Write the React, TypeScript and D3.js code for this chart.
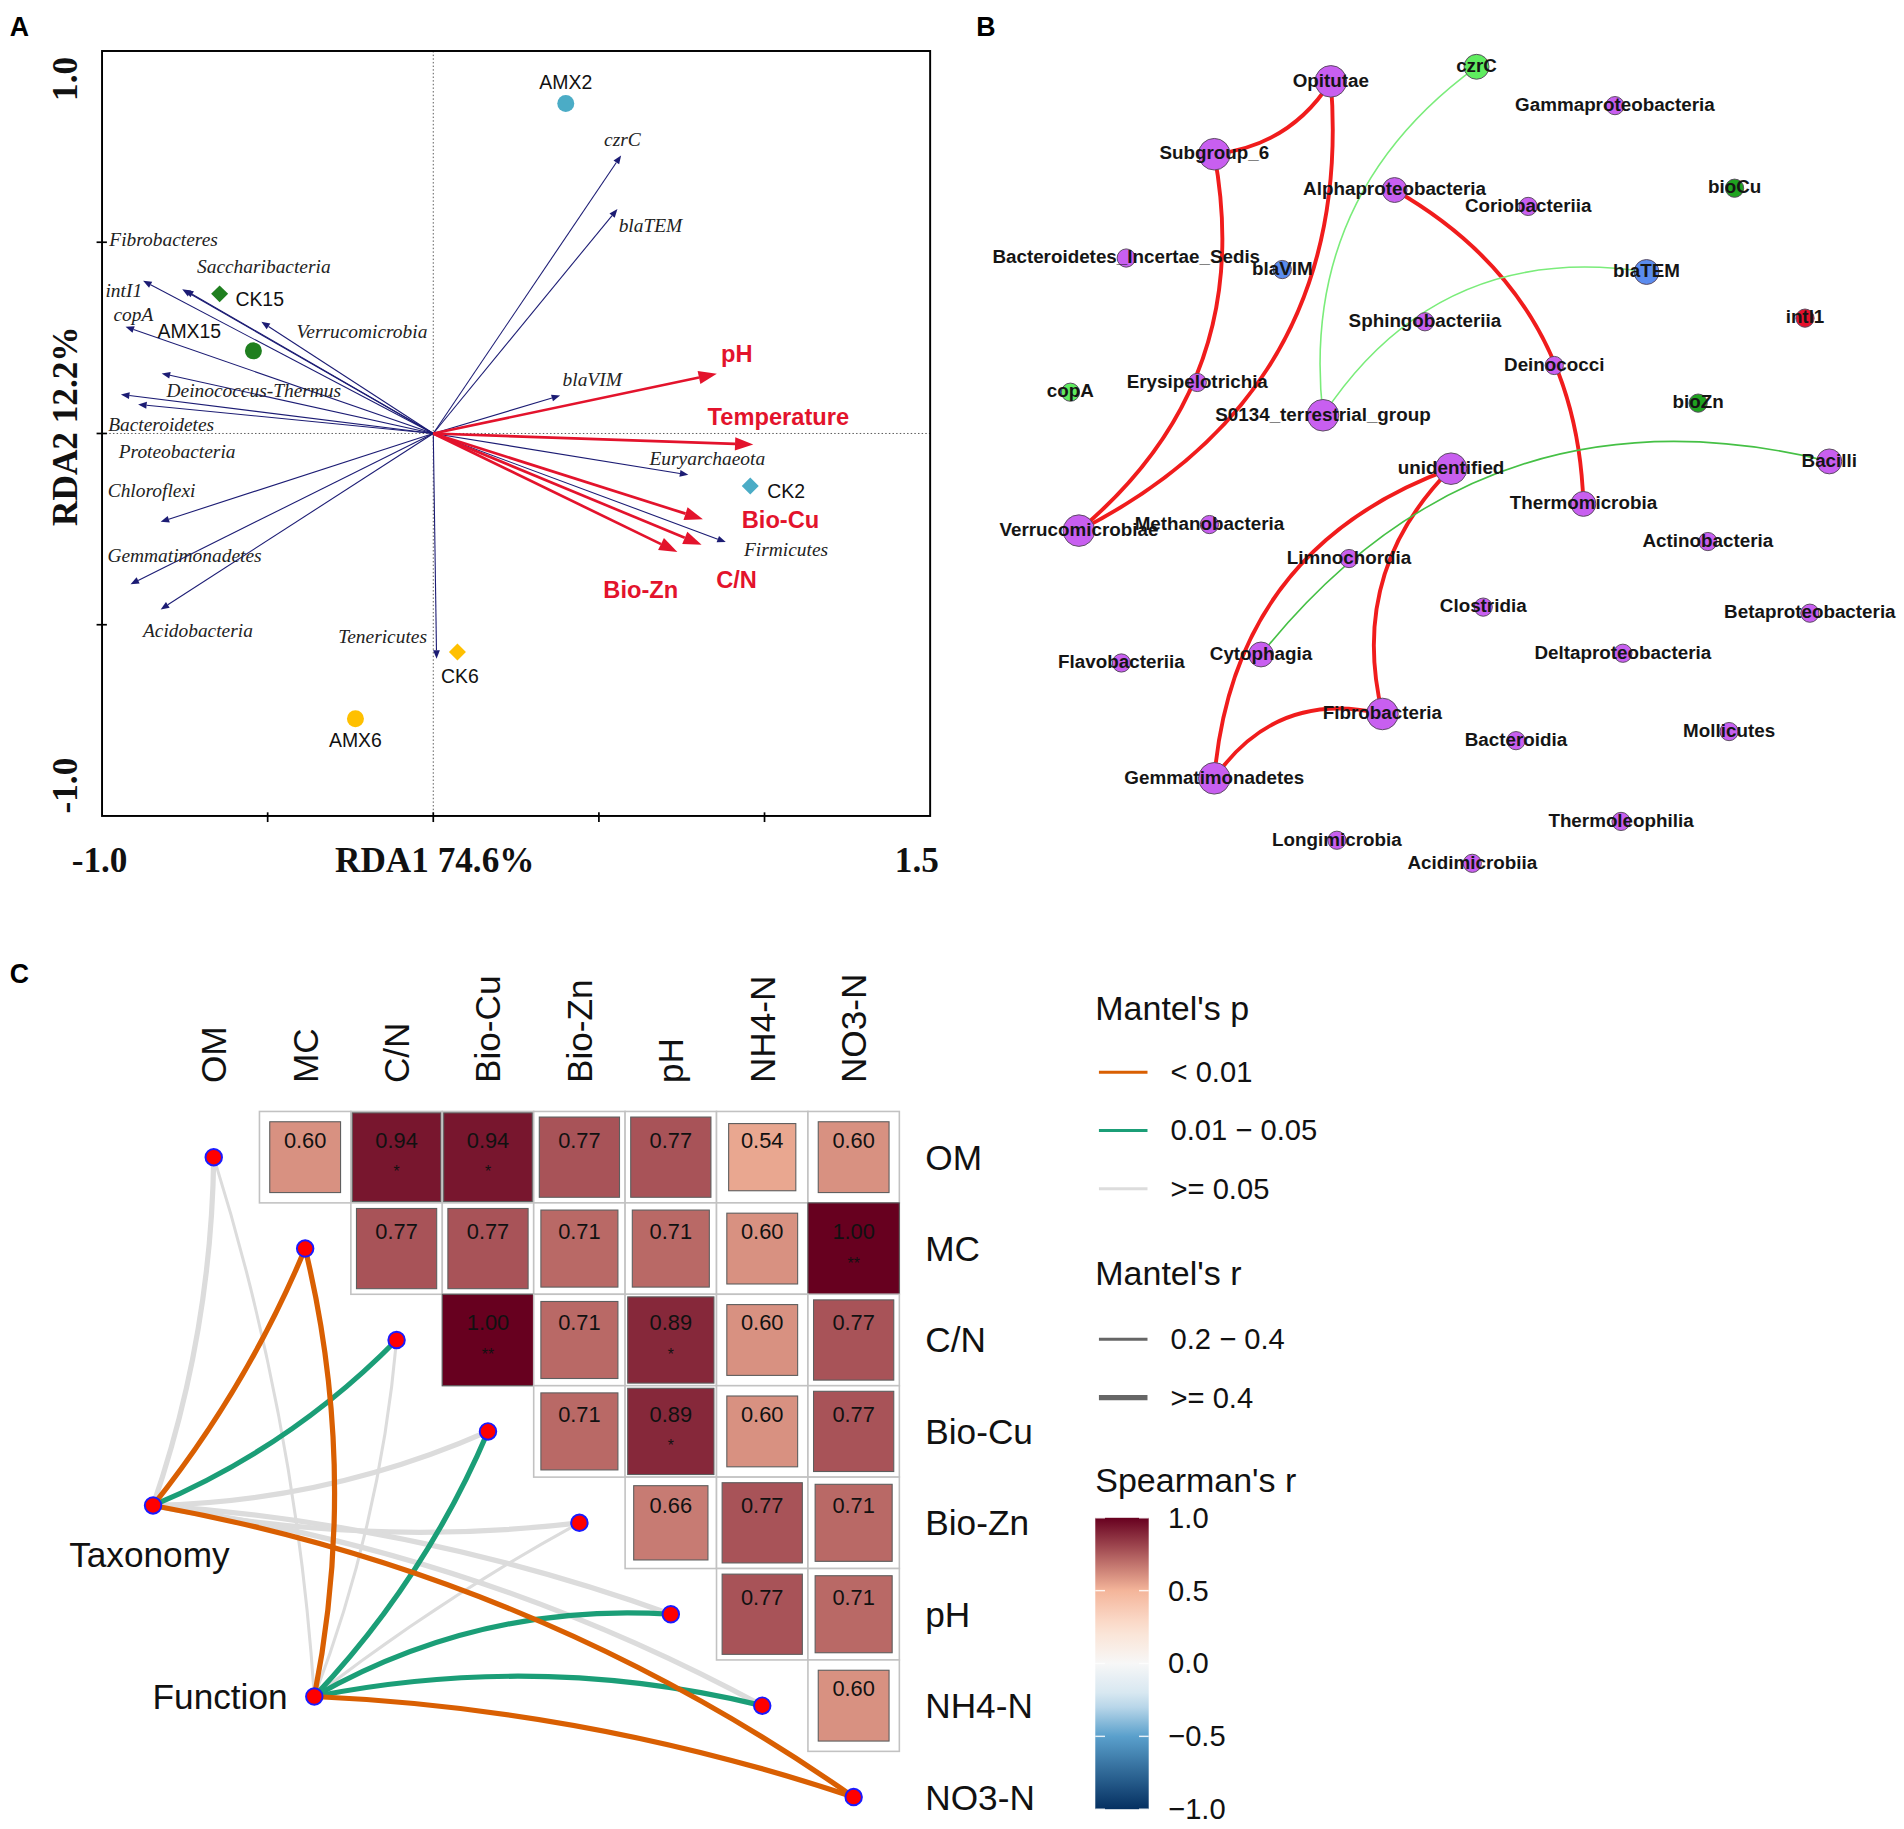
import React from "react";
import * as d3 from "d3";

const VB_W = 1568;
const VB_H = 1506.3;
const SANS = "'Liberation Sans', Arial, Helvetica, sans-serif";
const SERIF = "'Liberation Serif', 'Times New Roman', serif";

// ---------------- Panel A : RDA biplot ----------------
const sampleNames = ["AMX2", "CK15", "AMX15", "CK2", "CK6", "AMX6"];
const sampleRDA1 = [0.4, -0.645, -0.543, 0.957, 0.073, -0.235];
const sampleRDA2 = [0.863, 0.365, 0.216, -0.137, -0.571, -0.746];
const sampleShapes = ["circle", "diamond", "circle", "diamond", "diamond", "circle"];
const sampleGroups = ["day2", "day15", "day15", "day2", "day6", "day6"];

const speciesNames = [
  "czrC", "blaTEM", "blaVIM", "Euryarchaeota", "Firmicutes", "Tenericutes",
  "Acidobacteria", "Gemmatimonadetes", "Chloroflexi", "Proteobacteria",
  "Bacteroidetes", "Deinococcus-Thermus", "copA", "Verrucomicrobia",
  "Saccharibacteria", "Fibrobacteres", "intI1",
];
const speciesRDA1 = [0.567, 0.556, 0.383, 0.77, 0.883, 0.01, -0.823, -0.914, -0.823, -0.891, -0.943, -0.82, -0.929, -0.519, -0.75, -0.758, -0.876];
const speciesRDA2 = [0.727, 0.587, 0.099, -0.108, -0.284, -0.589, -0.46, -0.394, -0.231, 0.076, 0.102, 0.157, 0.279, 0.292, 0.375, 0.377, 0.399];

const envNamesA = ["pH", "Temperature", "Bio-Cu", "C/N", "Bio-Zn"];
const envRDA1 = [0.856, 0.966, 0.814, 0.81, 0.737];
const envRDA2 = [0.156, -0.029, -0.224, -0.291, -0.31];

const axisXTicks = [-0.5, 0, 0.5, 1.0];
const axisYTicks = [-0.5, 0, 0.5];

// ---------------- Panel B : network ----------------
const nodeNames = [
  "Opitutae", "czrC", "Gammaproteobacteria", "Subgroup_6", "Alphaproteobacteria",
  "Coriobacteriia", "bioCu", "Bacteroidetes_Incertae_Sedis", "blaVIM", "blaTEM",
  "intI1", "Sphingobacteriia", "copA", "Erysipelotrichia", "Deinococci", "bioZn",
  "S0134_terrestrial_group", "unidentified", "Bacilli", "Thermomicrobia",
  "Verrucomicrobiae", "Methanobacteria", "Actinobacteria", "Limnochordia",
  "Clostridia", "Betaproteobacteria", "Flavobacteriia", "Cytophagia",
  "Deltaproteobacteria", "Fibrobacteria", "Bacteroidia", "Mollicutes",
  "Gemmatimonadetes", "Thermoleophilia", "Longimicrobia", "Acidimicrobiia",
];
const nodeLayoutX = [306, 426, 540, 210, 358.5, 468.5, 638.5, 137.5, 266, 566, 696.5, 383.5, 91.5, 196, 490, 608.5, 299.5, 405, 716.5, 514, 98.5, 206, 616.5, 321, 431.5, 700.5, 133.5, 248.5, 546.5, 348.5, 458.5, 634, 210, 545, 311, 422.5];
const nodeLayoutY = [27, 15, 47, 87, 116.5, 130, 115, 172.5, 182, 184, 222, 225, 283, 275, 261, 292, 302, 346, 340, 375, 397, 392, 406, 420, 460, 465, 506, 499, 498, 548, 570, 562.5, 601, 636.5, 652, 671];
const nodeKinds = [
  "taxon", "mrg", "taxon", "taxon", "taxon", "taxon", "metal", "taxon", "arg", "arg",
  "mge", "taxon", "mrg", "taxon", "taxon", "metal", "taxon", "taxon", "taxon", "taxon",
  "taxon", "taxon", "taxon", "taxon", "taxon", "taxon", "taxon", "taxon", "taxon",
  "taxon", "taxon", "taxon", "taxon", "taxon", "taxon", "taxon",
];

const edgeSources = ["Subgroup_6", "Verrucomicrobiae", "Verrucomicrobiae", "Alphaproteobacteria", "unidentified", "unidentified", "Gemmatimonadetes", "czrC", "blaTEM", "Bacilli"];
const edgeTargets = ["Opitutae", "Opitutae", "Subgroup_6", "Thermomicrobia", "Gemmatimonadetes", "Fibrobacteria", "Fibrobacteria", "S0134_terrestrial_group", "S0134_terrestrial_group", "Cytophagia"];
const edgeBends = [0.12, 0.167, 0.146, -0.14, 0.16, 0.14, -0.17, 0.145, 0.16, 0.16];
const edgeKinds = ["taxa", "taxa", "taxa", "taxa", "taxa", "taxa", "taxa", "gene", "gene", "gene2"];

// ---------------- Panel C : Mantel / correlation ----------------
const envVars = ["OM", "MC", "C/N", "Bio-Cu", "Bio-Zn", "pH", "NH4-N", "NO3-N"];
// upper triangle (row i, columns i+1..7)
const corrRows = [
  [0.6, 0.94, 0.94, 0.77, 0.77, 0.54, 0.6],
  [0.77, 0.77, 0.71, 0.71, 0.6, 1.0],
  [1.0, 0.71, 0.89, 0.6, 0.77],
  [0.71, 0.89, 0.6, 0.77],
  [0.66, 0.77, 0.71],
  [0.77, 0.71],
  [0.6],
];
const corrStars = [
  ["", "*", "*", "", "", "", ""],
  ["", "", "", "", "", "**"],
  ["**", "", "*", "", ""],
  ["", "*", "", ""],
  ["", "", ""],
  ["", ""],
  [""],
];

const specNames = ["Taxonomy", "Function"];
const specGridX = [-0.664, 1.1];
const specGridY = [3.81, 5.9];
const taxonomyP = [">=0.05", "<0.01", "0.01-0.05", ">=0.05", ">=0.05", ">=0.05", ">=0.05", "<0.01"];
const taxonomyR = [">=0.4", ">=0.4", ">=0.4", ">=0.4", ">=0.4", ">=0.4", ">=0.4", ">=0.4"];
const taxonomyBend = [0.04, 0.035, 0.05, 0.05, 0.04, -0.035, -0.045, -0.055];
const functionP = [">=0.05", "<0.01", ">=0.05", "0.01-0.05", ">=0.05", "0.01-0.05", "0.01-0.05", "<0.01"];
const functionR = ["0.2-0.4", ">=0.4", "0.2-0.4", ">=0.4", "0.2-0.4", ">=0.4", ">=0.4", ">=0.4"];
const functionBend = [0.03, 0.055, 0.035, 0.045, -0.02, -0.075, -0.055, -0.035];

const pLevels = ["<0.01", "0.01-0.05", ">=0.05"];
const pLabels = ["< 0.01", "0.01 \u2212 0.05", ">= 0.05"];
const rLevels = ["0.2-0.4", ">=0.4"];
const rLabels = ["0.2 \u2212 0.4", ">= 0.4"];
const colorbarBreaks = [1.0, 0.5, 0.0, -0.5, -1.0];
const colorbarLabels = ["1.0", "0.5", "0.0", "\u22120.5", "\u22121.0"];

// ---------------- helpers ----------------
function curvePath(x1: number, y1: number, x2: number, y2: number, bend: number) {
  const dx = x2 - x1;
  const dy = y2 - y1;
  const len = Math.hypot(dx, dy);
  const px = -dy / len;
  const py = dx / len;
  const cx = (x1 + x2) / 2 + px * bend * len * 2;
  const cy = (y1 + y2) / 2 + py * bend * len * 2;
  const p = d3.path();
  p.moveTo(x1, y1);
  p.quadraticCurveTo(cx, cy, x2, y2);
  return p.toString();
}

function Arrow(props: { x1: number; y1: number; x2: number; y2: number; color: string; width: number; headLen: number; headW: number }) {
  const { x1, y1, x2, y2, color, width, headLen, headW } = props;
  const ang = Math.atan2(y2 - y1, x2 - x1);
  const bx = x2 - headLen * Math.cos(ang);
  const by = y2 - headLen * Math.sin(ang);
  const lx = bx + headW * Math.sin(ang);
  const ly = by - headW * Math.cos(ang);
  const rx = bx - headW * Math.sin(ang);
  const ry = by + headW * Math.cos(ang);
  return (
    <g>
      <line x1={x1} y1={y1} x2={bx} y2={by} stroke={color} strokeWidth={width} />
      <path d={`M${x2},${y2}L${lx},${ly}L${rx},${ry}Z`} fill={color} />
    </g>
  );
}

// ---------------- Panel A ----------------
const speciesLabelNudge: [number, number][] = [
  [-14, -13.5], [1, 13.5], [2, -13], [-32, -13.5], [15, 6], [-81, -18], [-14.6, 17],
  [-19, -23.5], [-43.6, -26], [-16, 39], [-10.5, 25], [4, 14], [-10, -10.5], [29, 8],
  [10, -19], [-60, -41], [-31, 8],
];
const envLabelNudge: [number, number][] = [[3.5, -16], [-37.6, -23], [32, 0.5], [12, 29], [-61, 31.5]];
const sampleLabelNudge: [number, number, string][] = [
  [0, -18, "middle"], [13, 4, "start"], [-79, -16.6, "start"], [14, 4, "start"], [2, 20, "middle"], [0, 17.5, "middle"],
];
const groupColor: Record<string, string> = { day2: "#4bacc6", day15: "#1f7f1f", day6: "#ffc000" };

function PanelA() {
  const x = d3.scaleLinear().domain([-1, 1.5]).range([84, 766]);
  const y = d3.scaleLinear().domain([-1, 1]).range([672, 42]);
  const x0 = x(0);
  const y0 = y(0);
  return (
    <g>
      <text x={8} y={22} fontFamily={SANS} fontWeight="bold" fontSize={22} dominantBaseline="central">A</text>
      <line x1={x0} x2={x0} y1={y(1)} y2={y(-1)} stroke="#555" strokeWidth={0.8} strokeDasharray="1.2,1.8" />
      <line x1={x(-1)} x2={x(1.5)} y1={y0} y2={y0} stroke="#555" strokeWidth={0.8} strokeDasharray="1.2,1.8" />
      <rect x={x(-1)} y={y(1)} width={x(1.5) - x(-1)} height={y(-1) - y(1)} fill="none" stroke="#000" strokeWidth={1.6} />
      {axisYTicks.map((t) => (
        <line key={"yt" + t} x1={x(-1) - 4.5} x2={x(-1) + 4} y1={y(t)} y2={y(t)} stroke="#000" strokeWidth={1.4} />
      ))}
      {axisXTicks.map((t) => (
        <line key={"xt" + t} x1={x(t)} x2={x(t)} y1={y(-1) - 3} y2={y(-1) + 5} stroke="#000" strokeWidth={1.4} />
      ))}
      <g fontFamily={SERIF} fontWeight="bold" fontSize={29} fill="#111">
        <text x={82} y={709} textAnchor="middle" dominantBaseline="central">-1.0</text>
        <text x={755} y={709} textAnchor="middle" dominantBaseline="central">1.5</text>
        <text x={358} y={709} textAnchor="middle" dominantBaseline="central">RDA1 74.6%</text>
        <text transform="translate(54,65) rotate(-90)" textAnchor="middle" dominantBaseline="central">1.0</text>
        <text transform="translate(54,647) rotate(-90)" textAnchor="middle" dominantBaseline="central">-1.0</text>
        <text transform="translate(54,351) rotate(-90)" textAnchor="middle" dominantBaseline="central">RDA2 12.2%</text>
      </g>
      {speciesNames.map((n, i) => (
        <Arrow key={"sp" + n} x1={x0} y1={y0} x2={x(speciesRDA1[i])} y2={y(speciesRDA2[i])} color="#1c1c74" width={0.9} headLen={7} headW={2.8} />
      ))}
      {speciesNames.map((n, i) => (
        <text key={"spl" + n} x={x(speciesRDA1[i]) + speciesLabelNudge[i][0]} y={y(speciesRDA2[i]) + speciesLabelNudge[i][1]}
          fontFamily={SERIF} fontStyle="italic" fontSize={16} fill="#222" dominantBaseline="central">{n}</text>
      ))}
      {envNamesA.map((n, i) => (
        <Arrow key={"env" + n} x1={x0} y1={y0} x2={x(envRDA1[i])} y2={y(envRDA2[i])} color="#e3132c" width={2.2} headLen={15} headW={5.5} />
      ))}
      {envNamesA.map((n, i) => (
        <text key={"envl" + n} x={x(envRDA1[i]) + envLabelNudge[i][0]} y={y(envRDA2[i]) + envLabelNudge[i][1]}
          fontFamily={SANS} fontWeight="bold" fontSize={19.5} fill="#e3132c" dominantBaseline="central">{n}</text>
      ))}
      {sampleNames.map((n, i) => {
        const cx = x(sampleRDA1[i]);
        const cy = y(sampleRDA2[i]);
        const col = groupColor[sampleGroups[i]];
        return sampleShapes[i] === "circle" ? (
          <circle key={"s" + n} cx={cx} cy={cy} r={7} fill={col} />
        ) : (
          <path key={"s" + n} d={`M${cx},${cy - 7}L${cx + 7},${cy}L${cx},${cy + 7}L${cx - 7},${cy}Z`} fill={col} />
        );
      })}
      {sampleNames.map((n, i) => (
        <text key={"sl" + n} x={x(sampleRDA1[i]) + sampleLabelNudge[i][0]} y={y(sampleRDA2[i]) + sampleLabelNudge[i][1]}
          textAnchor={sampleLabelNudge[i][2] as any} fontFamily={SANS} fontSize={16} fill="#111" dominantBaseline="central">{n}</text>
      ))}
    </g>
  );
}

// ---------------- Panel B ----------------
const kindFill: Record<string, string> = {
  taxon: "#c85ff0", mrg: "#5fec5f", metal: "#1fa31f", arg: "#5b8cef", mge: "#e5102b",
};
const edgeStyle: Record<string, { stroke: string; width: number }> = {
  taxa: { stroke: "#f01c1c", width: 3.2 },
  gene: { stroke: "#7aec7a", width: 1.3 },
  gene2: { stroke: "#45c045", width: 1.3 },
};

function PanelB() {
  const sx = d3.scaleLinear().domain([0, 780]).range([790, 1570]);
  const sy = d3.scaleLinear().domain([0, 690]).range([40, 730]);
  const idx = new Map(nodeNames.map((n, i) => [n, i] as [string, number]));
  const degree = nodeNames.map((n) => edgeSources.filter((s) => s === n).length + edgeTargets.filter((t) => t === n).length);
  const rScale = d3.scaleLinear().domain([0, 2]).range([7.5, 13]);
  return (
    <g>
      <text x={804} y={22} fontFamily={SANS} fontWeight="bold" fontSize={22} dominantBaseline="central">B</text>
      {edgeSources.map((s, i) => {
        const a = idx.get(s)!;
        const b = idx.get(edgeTargets[i])!;
        const st = edgeStyle[edgeKinds[i]];
        return (
          <path key={"e" + i} d={curvePath(sx(nodeLayoutX[a]), sy(nodeLayoutY[a]), sx(nodeLayoutX[b]), sy(nodeLayoutY[b]), edgeBends[i])}
            fill="none" stroke={st.stroke} strokeWidth={st.width} />
        );
      })}
      {nodeNames.map((n, i) => (
        <circle key={"n" + n} cx={sx(nodeLayoutX[i])} cy={sy(nodeLayoutY[i])} r={rScale(degree[i])}
          fill={kindFill[nodeKinds[i]]} stroke="#5a4a60" strokeWidth={0.8} />
      ))}
      {nodeNames.map((n, i) => (
        <text key={"nl" + n} x={sx(nodeLayoutX[i])} y={sy(nodeLayoutY[i]) - 1} textAnchor="middle" dominantBaseline="central"
          fontFamily={SANS} fontWeight="bold" fontSize={15.5} fill="#151515">{n}</text>
      ))}
    </g>
  );
}

// ---------------- Panel C ----------------
const pColor: Record<string, string> = { "<0.01": "#D95F02", "0.01-0.05": "#1B9E77", ">=0.05": "#dcdcdc" };
const rWidth: Record<string, number> = { "0.2-0.4": 2.5, ">=0.4": 4.3 };

function PanelC() {
  const col = d3.scaleLinear().domain([0, 7]).range([176, 703]);
  const row = d3.scaleLinear().domain([0, 7]).range([953, 1480]);
  const cell = col(1) - col(0);
  const fill = d3
    .scaleLinear<string>()
    .domain([-1, -0.5, -0.25, 0, 0.25, 0.5, 1])
    .range(["#053061", "#5aa0cc", "#d0e4f0", "#f7f7f7", "#fbe0d0", "#f4b59a", "#67001f"])
    .interpolate(d3.interpolateRgb);

  const links: { d: string; p: string; r: string }[] = [];
  specNames.forEach((s, si) => {
    const P = si === 0 ? taxonomyP : functionP;
    const R = si === 0 ? taxonomyR : functionR;
    const B = si === 0 ? taxonomyBend : functionBend;
    envVars.forEach((e, j) => {
      links.push({
        d: curvePath(col(specGridX[si]), row(specGridY[si]), col(j), row(j), B[j]),
        p: P[j],
        r: R[j],
      });
    });
  });
  const order = [">=0.05", "0.01-0.05", "<0.01"];
  links.sort((a, b) => order.indexOf(a.p) - order.indexOf(b.p));

  const cbTop = 1250;
  const cbBot = 1490;
  const cbY = d3.scaleLinear().domain([-1, 1]).range([cbBot, cbTop]);
  const gradStops = d3.range(0, 1.0001, 0.05);

  return (
    <g>
      <text x={8} y={802} fontFamily={SANS} fontWeight="bold" fontSize={22} dominantBaseline="central">C</text>
      {envVars.map((v, j) => (
        <text key={"cl" + v} transform={`translate(${col(j)},892) rotate(-90)`} textAnchor="start" dominantBaseline="central"
          fontFamily={SANS} fontSize={29} fill="#111">{v}</text>
      ))}
      {envVars.map((v, i) => (
        <text key={"rl" + v} x={762} y={row(i)} dominantBaseline="central" fontFamily={SANS} fontSize={29} fill="#111">{v}</text>
      ))}
      {corrRows.map((vals, i) =>
        vals.map((v, k) => {
          const j = i + 1 + k;
          const cx = col(j);
          const cy = row(i);
          const side = cell * Math.sqrt(Math.abs(v));
          return (
            <g key={`c${i}-${j}`}>
              <rect x={cx - cell / 2} y={cy - cell / 2} width={cell} height={cell} fill="#fff" stroke="#c2c2c2" strokeWidth={1.3} />
              <rect x={cx - side / 2} y={cy - side / 2} width={side} height={side} fill={fill(v)} stroke="#5e5e5e" strokeWidth={0.9} />
              <text x={cx} y={cy - 14} textAnchor="middle" dominantBaseline="central" fontFamily={SANS} fontSize={18} fill="#111">
                {v.toFixed(2)}
              </text>
              {corrStars[i][k] && (
                <text x={cx} y={cy + 12} textAnchor="middle" dominantBaseline="central" fontFamily={SANS} fontSize={13} fill="#111">
                  {corrStars[i][k]}
                </text>
              )}
            </g>
          );
        })
      )}
      {links.map((l, i) => (
        <path key={"lk" + i} d={l.d} fill="none" stroke={pColor[l.p]} strokeWidth={rWidth[l.r]} strokeLinecap="round" />
      ))}
      {envVars.map((v, j) => (
        <circle key={"en" + v} cx={col(j)} cy={row(j)} r={6.8} fill="#ff0000" stroke="#1a1aff" strokeWidth={1.6} />
      ))}
      {specNames.map((s, si) => (
        <circle key={"sn" + s} cx={col(specGridX[si])} cy={row(specGridY[si])} r={6.8} fill="#ff0000" stroke="#1a1aff" strokeWidth={1.6} />
      ))}
      <text x={col(specGridX[0]) - 3} y={row(specGridY[0]) + 40} textAnchor="middle" dominantBaseline="central" fontFamily={SANS} fontSize={29} fill="#111">
        {specNames[0]}
      </text>
      <text x={col(specGridX[1]) - 22} y={row(specGridY[1])} textAnchor="end" dominantBaseline="central" fontFamily={SANS} fontSize={29} fill="#111">
        {specNames[1]}
      </text>

      <g fontFamily={SANS} fill="#111">
        <text x={902} y={830} fontSize={28} dominantBaseline="central">Mantel's p</text>
        {pLevels.map((p, k) => (
          <g key={"lp" + p}>
            <line x1={905} x2={945} y1={883 + 48 * k} y2={883 + 48 * k} stroke={pColor[p]} strokeWidth={2.4} />
            <text x={964} y={883 + 48 * k} fontSize={24} dominantBaseline="central">{pLabels[k]}</text>
          </g>
        ))}
        <text x={902} y={1048} fontSize={28} dominantBaseline="central">Mantel's r</text>
        {rLevels.map((r, k) => (
          <g key={"lr" + r}>
            <line x1={905} x2={945} y1={1103 + 48 * k} y2={1103 + 48 * k} stroke="#666" strokeWidth={k === 0 ? 2.4 : 4.2} />
            <text x={964} y={1103 + 48 * k} fontSize={24} dominantBaseline="central">{rLabels[k]}</text>
          </g>
        ))}
        <text x={902} y={1219} fontSize={28} dominantBaseline="central">Spearman's r</text>
        <defs>
          <linearGradient id="cbGrad" x1="0" y1="1" x2="0" y2="0">
            {gradStops.map((t) => (
              <stop key={"gs" + t} offset={t} stopColor={fill(-1 + 2 * t)} />
            ))}
          </linearGradient>
        </defs>
        <rect x={902} y={cbTop} width={44} height={cbBot - cbTop} fill="url(#cbGrad)" />
        {colorbarBreaks.map((b, k) => (
          <g key={"cb" + b}>
            <line x1={902} x2={910} y1={cbY(b)} y2={cbY(b)} stroke="#fff" strokeWidth={1.2} opacity={0.85} />
            <line x1={938} x2={946} y1={cbY(b)} y2={cbY(b)} stroke="#fff" strokeWidth={1.2} opacity={0.85} />
            <text x={962} y={cbY(b)} fontSize={24} dominantBaseline="central">{colorbarLabels[k]}</text>
          </g>
        ))}
      </g>
    </g>
  );
}

export default function App() {
  return (
    <svg
      width={1904}
      height={1829}
      viewBox={`0 0 ${VB_W} ${VB_H}`}
      style={{ position: "absolute", left: 0, top: 0, background: "#fff" }}
      xmlns="http://www.w3.org/2000/svg"
    >
      <rect x={0} y={0} width={VB_W} height={VB_H} fill="#fff" />
      <PanelA />
      <PanelB />
      <PanelC />
    </svg>
  );
}
